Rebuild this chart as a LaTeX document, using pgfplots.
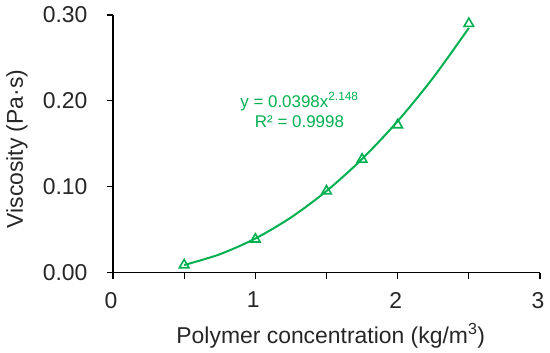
\documentclass[border=0pt]{standalone}
\usepackage{pgfplots}
\pgfplotsset{compat=1.18}
\usepackage{fontspec}
\setmainfont{Liberation Sans}
\definecolor{excelgreen}{RGB}{0,176,80}
\begin{document}
\begin{tikzpicture}[x=1bp,y=1bp]
\path[use as bounding box] (0,0) rectangle (550,352);
\begin{axis}[
  at={(113bp,79.3bp)}, anchor=south west,
  scale only axis, width=427bp, height=257.7bp,
  xmin=0, xmax=3, ymin=0, ymax=0.3,
  axis x line*=bottom, axis y line*=left,
  tick align=outside,
  xtick={0,1,2,3}, minor xtick={0.5,1.5,2.5},
  ytick={0,0.1,0.2,0.3},
  yticklabel style={/pgf/number format/.cd,fixed,fixed zerofill,precision=2, /tikz/.cd, xshift=-16bp},
  xticklabel style={/pgf/number format/.cd,fixed,precision=0, /tikz/.cd, yshift=-10bp, xshift=-2bp},
  /pgf/number format/assume math mode=true,
  tick label style={font=\fontsize{23}{27}\selectfont, text=black!85},
  label style={font=\fontsize{23}{27}\selectfont, text=black!85},
  major tick length=6bp, minor tick length=6bp,
  every tick/.style={black, line width=1.1bp},
  every minor tick/.style={black, line width=1.1bp},
  axis line style={line width=1.1bp, black},
  xlabel={Polymer concentration (kg/m\textsuperscript{3})},
  ylabel={Viscosity (Pa·s)},
  xlabel style={at={(axis description cs:0.51,-0.273)}, anchor=base},
  ylabel style={at={(axis description cs:-0.225,0.48)}, anchor=center, rotate=0},
  clip=false,
]
\addplot[excelgreen, line width=2bp, smooth, no marks] coordinates {
  (0.5,0.00898) (0.75,0.02145) (1,0.0398) (1.25,0.06428) (1.5,0.09509)
  (1.75,0.13241) (2,0.17640) (2.25,0.22718) (2.5,0.28488)
};
\addplot[excelgreen, only marks, mark=triangle, mark size=5.5bp,
  mark options={line width=1.6bp, fill=white}] coordinates {
  (0.5,0.009) (1,0.039) (1.5,0.095) (1.75,0.132) (2,0.172) (2.5,0.290)
};
\node[text=excelgreen, align=center, font=\fontsize{17}{21}\selectfont]
  at (axis cs:1.31,0.189) {y = 0.0398x\textsuperscript{2.148}\\R² = 0.9998};
\end{axis}
\end{tikzpicture}
\end{document}
